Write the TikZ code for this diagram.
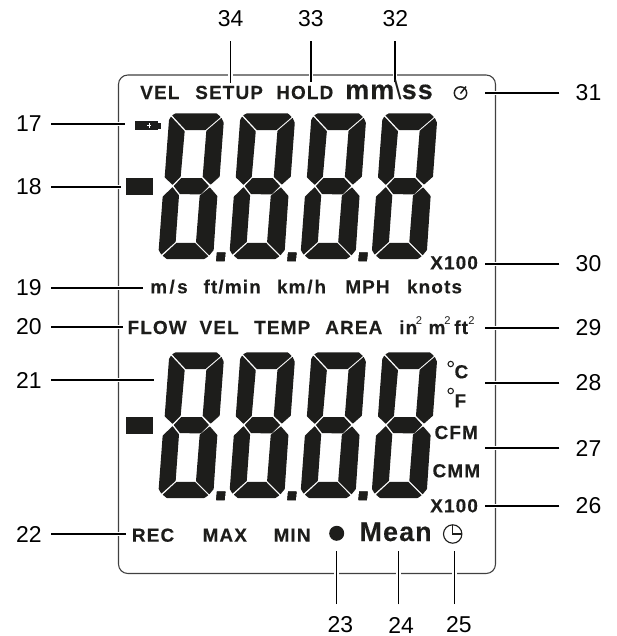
\documentclass[tikz,border=0pt]{standalone}
\usepackage{fontspec}
\setmainfont{Liberation Sans}
\newfontfamily\lcdfont[LetterSpace=6,FakeBold=.25]{Liberation Sans Bold}
\newfontfamily\lcdbig[LetterSpace=4,FakeBold=.25]{Liberation Sans Bold}
\definecolor{ink}{HTML}{1D1D1B}
\newcommand{\lcdsize}[1]{\fontsize{#1}{#1}\selectfont}
\newcommand{\segdigit}[1]{%
  \begin{scope}[shift={#1},x=.25pt,y=-.25pt,seg]
    \fill (186,136)--(197,130)--(320,130)--(332,141)--(286.5,180)--(227,180)--cycle;
    \fill (183,139.5)--(224,183.5)--(212,320.5)--(187.5,344.5)--(164,322)--(177,150)--cycle;
    \fill (334.5,143.5)--(341,158)--(329,320)--(302,344)--(278,320.5)--(289,182.5)--cycle;
    \fill (214,324)--(275,324)--(297,348)--(272,373)--(210,372.5)--(191,348)--cycle;
    \fill (187.5,351.5)--(207,376)--(197,515.5)--(154,554)--(146,540)--(158,380)--cycle;
    \fill (299.5,352)--(322,378)--(311,540)--(298,556)--(258,516)--(269,377)--cycle;
    \fill (199.5,518.5)--(255,518.5)--(295,559)--(283,567)--(170,567)--(158,557)--cycle;
  \end{scope}}
\newcommand{\segdot}[1]{%
  \begin{scope}[shift={#1},x=.25pt,y=-.25pt]
    \fill[ink] (321,548)--(346,548)--(344,573)--(319,573)--cycle;
  \end{scope}}
\tikzset{
  seg/.style={ink,rounded corners=.3pt},
  frame/.style={draw=black!75,line width=.8pt,rounded corners=7pt},
  leader/.style={black,line width=1.15pt,preaction={draw,white,line width=3.4pt}},
  numl/.style={font=\lcdsize{17.2},text=black,inner ysep=0pt,inner xsep=6.8pt},
  numr/.style={font=\lcdsize{17.2},text=black,inner ysep=0pt,inner xsep=12pt},
  numt/.style={font=\lcdsize{17.2},text=black,inner xsep=0pt,inner ysep=11pt},
  numb/.style={font=\lcdsize{17.2},text=black,inner xsep=0pt,inner ysep=9.3pt},
  lab/.style={font=\lcdfont\lcdsize{14.2},text=ink,anchor=base west,inner sep=0pt},
  big/.style={font=\lcdbig\lcdsize{20.2},text=ink,anchor=base west,inner sep=0pt},
  sq/.style={font=\lcdsize{8.4},text=ink,anchor=base west,inner sep=0pt},
}
\begin{document}
\begin{tikzpicture}[x=.75pt,y=-.75pt]
\useasboundingbox[fill=white] (0,0) rectangle (617,636);
% callout numbers
\foreach \n/\y in {17/124,18/187,19/288,20/327,21/380,22/534}
  \node[numl] (n\n) at (29,\y) {\n};
\foreach \n/\y in {31/93,30/264,29/328,28/383,27/448,26/506}
  \node[numr] (n\n) at (588.5,\y) {\n};
\foreach \n/\x in {34/230.7,33/311,32/395.5}
  \node[numt] (n\n) at (\x,18.3) {\n};
\foreach \n/\x in {23/340.3,24/401.2,25/458.8}
  \node[numb] (n\n) at (\x,625) {\n};
% leader ends
\foreach \n/\x/\y in {17/125/124,18/121/187,19/143/288,20/123/327,21/154/380,22/125.5/534,
  31/485/93,30/485/264,29/485/328,28/485/383,27/485/448,26/485/506,
  34/230.7/83,33/310.8/82,32/395.2/82,23/336.7/551,24/398.3/551,25/454.3/551}
  \coordinate (e\n) at (\x,\y);
% frame
\draw[frame] (118.5,75) rectangle (495.5,573.5);
% leaders
\foreach \n in {17,18,19,20,21,22,31,30,29,28,27,26}
  \draw[leader] (n\n) -- (e\n);
\foreach \n in {34,33,32}
  \draw[leader] (e\n |- n\n.south) -- (e\n);
\foreach \n in {23,24,25}
  \draw[leader] (e\n |- n\n.north) -- (e\n);
% seven segment digits
\foreach \j in {0,239}{
  \foreach \k in {0,1,2,3}
    \segdigit{({110+\k*71.1},{70+\j})}
  \foreach \k in {0,1,2}
    \segdot{({110+\k*71.1},{70+\j})}
  \fill[ink] (126,{178+\j}) rectangle (153.3,{195.3+\j});
}
% battery
\fill[ink] (135,121) rectangle (158,130);
\fill[ink] (158,122.5) rectangle (160.5,128.5);
\draw[white,line width=.7pt] (149,123.4)--(149,127.6) (147,125.5)--(151,125.5);
% top row
\node[lab] (tvel) at (140,99) {VEL};
\node[lab] (tsetup) at (195,99) {SETUP};
\node[lab] (thold) at (276,99) {HOLD};
\node[big] (tmm) at (345,99) {mm{\rmfamily\textbackslash}ss};
\draw[ink,line width=1.1pt] (460.5,93) circle (6.2);
\draw[ink,line width=1.1pt] (460.5,93.5) -- (466,86.5);
\node[lab] (x1) at (430,269.3) {X100};
% unit row
\node[lab] (ums) at (150,293.3) {m\kern1.8pt/\kern1.8pt s};
\node[lab] (uft) at (203.3,293.3) {ft/min};
\node[lab] (ukm) at (276.7,293.3) {km\kern1.4pt/\kern1.4pt h};
\node[lab] (umph) at (345,293.3) {MPH};
\node[lab] (ukn) at (406.7,293.3) {knots};
% mode row
\node[lab] (mflow) at (127.3,334) {FLOW};
\node[lab] (mvel) at (199.3,334) {VEL};
\node[lab] (mtemp) at (254,334) {TEMP};
\node[lab] (marea) at (325,334) {AREA};
\node[lab] (min2) at (399,334) {in};
\node[sq] (s1) at (415.5,324) {2};
\node[lab] (mm2) at (428.3,334) {m};
\node[sq] (s2) at (444,324) {2};
\node[lab] (mft2) at (454,334) {ft};
\node[sq] (s3) at (468,324) {2};
% temperature and flow units
\draw[ink,line width=.8pt] (450.7,364) circle (2.7);
\node[lab] (uc) at (454.3,378.3) {C};
\draw[ink,line width=.8pt] (450.7,391) circle (2.7);
\node[lab] (uf) at (454.3,407.3) {F};
\node[lab] (ucfm) at (434.3,439) {CFM};
\node[lab] (ucmm) at (432.3,477.3) {CMM};
\node[lab] (x2) at (430,512.3) {X100};
% bottom row
\node[lab] (brec) at (131.7,541.7) {REC};
\node[lab] (bmax) at (202.3,541.7) {MAX};
\node[lab] (bmin) at (273.3,541.7) {MIN};
\fill[ink] (336.7,533.3) circle (7.5);
\node[big] (bmean) at (359.3,541) {Mean};
\draw[ink,line width=.85pt] (452.7,534) circle (9.2);
\draw[ink,line width=.85pt] (452.7,525) -- (452.7,534) -- (461.5,534);
\end{tikzpicture}
\end{document}
